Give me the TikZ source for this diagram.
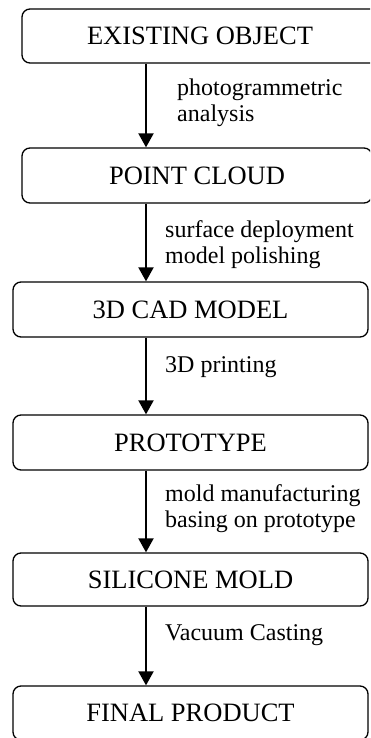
\documentclass[tikz,border=0pt]{standalone}
\usepackage{fontspec}
\setmainfont{Liberation Serif}
\usetikzlibrary{arrows.meta}
\tikzset{
  stage/.style={draw, rounded corners=8pt, line width=1.3pt, minimum height=54pt,
    inner sep=0pt, font=\fontsize{26.5}{30}\selectfont},
  flow/.style={line width=2pt, -{Triangle[width=15pt,length=14pt]}},
  note/.style={anchor=base west, align=left, inner sep=0pt, font=\fontsize{24}{26}\selectfont},
}
\begin{document}
\begin{tikzpicture}[x=1pt,y=1pt]
	\useasboundingbox (0,0) rectangle (370,-738);
	\clip (0,0) rectangle (370,-738);
	% process stages
	\node[stage, minimum width=356pt] (obj) at (200,-36) {EXISTING OBJECT};
	\node[stage, minimum width=350pt, minimum height=55pt] (cloud) at (197,-175.5) {POINT CLOUD};
	\node[stage, minimum width=355pt, minimum height=55pt] (cad) at (190.5,-309.5) {3D CAD MODEL};
	\node[stage, minimum width=355pt, minimum height=55pt] (proto) at (190.5,-442.5) {PROTOTYPE};
	\node[stage, minimum width=355pt, minimum height=53pt] (mold) at (190.5,-579.5) {SILICONE MOLD};
	\node[stage, minimum width=355pt] (prod) at (190.5,-713) {FINAL PRODUCT};
	% arrows all run down the same vertical line
	\coordinate (ax) at (146,0);
	\draw[flow] (ax |- obj.south) -- (ax |- cloud.north);
	\draw[flow] (ax |- cloud.south) -- (ax |- cad.north);
	\draw[flow] (ax |- cad.south) -- (ax |- proto.north);
	\draw[flow] (ax |- proto.south) -- (ax |- mold.north);
	\draw[flow] (ax |- mold.south) -- (ax |- prod.north);
	% operations (base = baseline of the last line)
	\node[note] (n1) at (177,-122) {photogrammetric\\analysis};
	\node[note] (n2) at (165,-263) {surface deployment\\model polishing};
	\node[note] (n3) at (165,-372) {3D printing};
	\node[note] (n4) at (165,-527) {mold manufacturing\\basing on prototype};
	\node[note] (n5) at (165,-640) {Vacuum Casting};
\end{tikzpicture}
\end{document}
